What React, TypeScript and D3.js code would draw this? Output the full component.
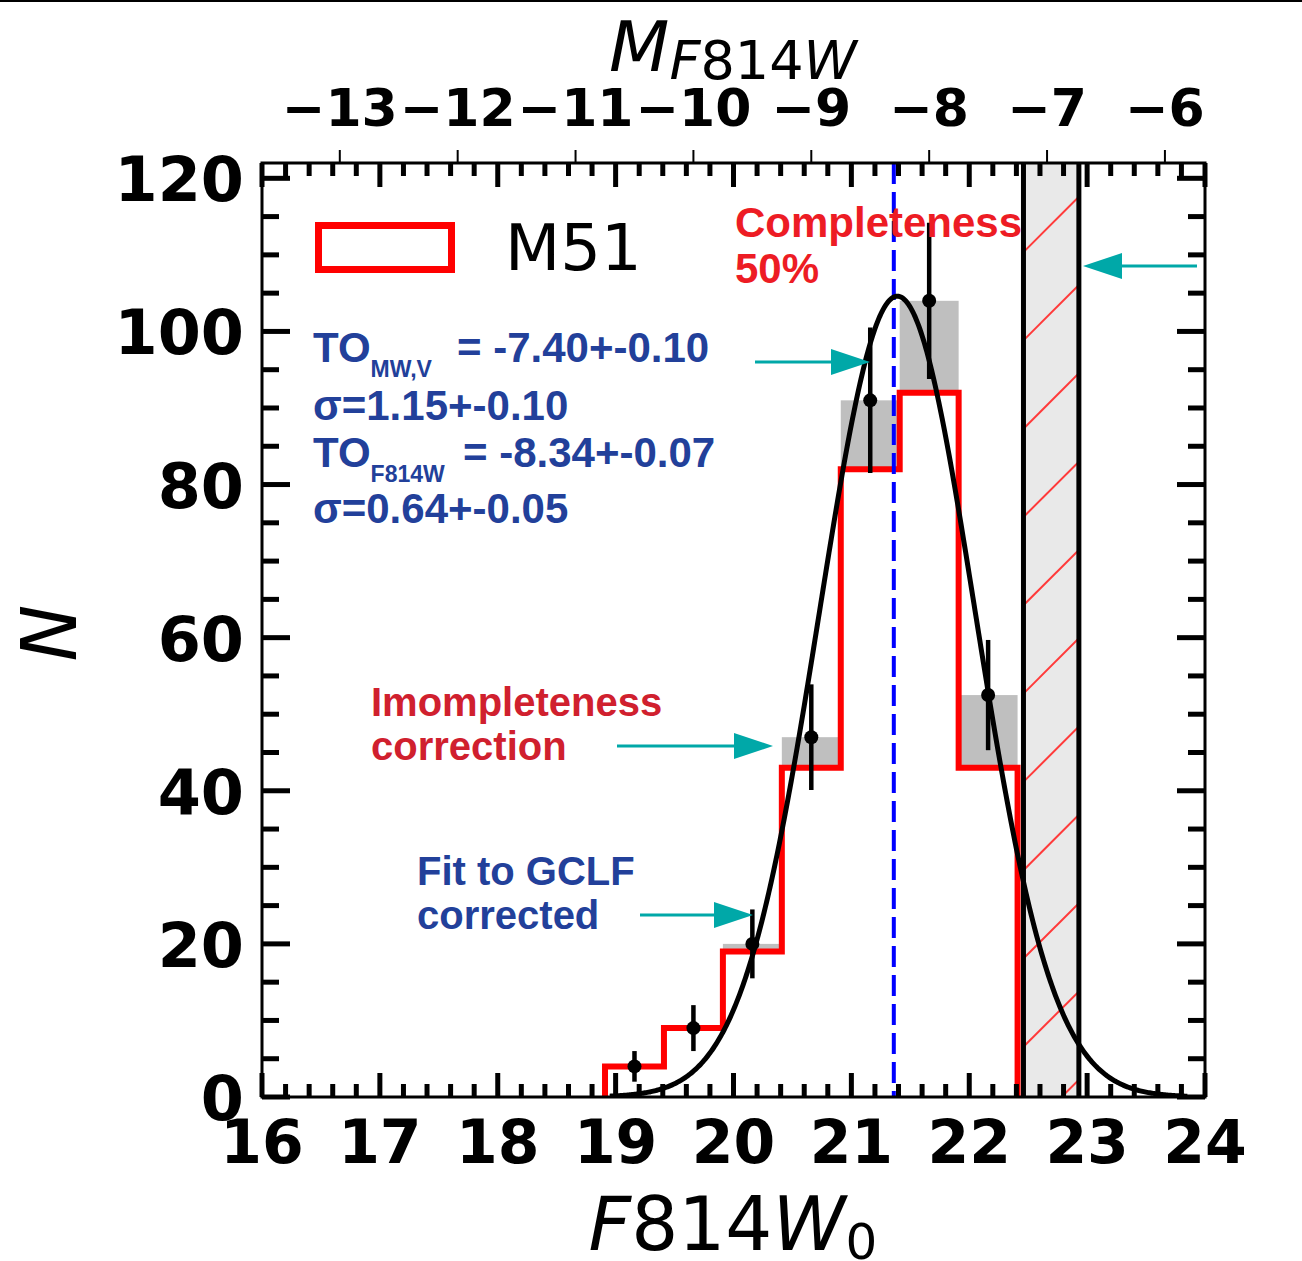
import React from 'react';
import * as d3 from 'd3';

// ---------- data ----------
const binEdges = [18.91, 19.41, 19.91, 20.41, 20.91, 21.41, 21.91, 22.41];
const binCenters = [19.16, 19.66, 20.16, 20.66, 21.16, 21.66, 22.16];
const rawCounts = [4, 9, 19, 43, 82, 92, 43];
const correctedCounts = [4, 9, 20, 47, 91, 104, 52.5];
const countErrors = [2, 3, 4.5, 6.9, 9.5, 10.2, 7.2];

const xTicks = [16, 17, 18, 19, 20, 21, 22, 23, 24];
const yTicks = [0, 20, 40, 60, 80, 100, 120];
const topTicks = [-13, -12, -11, -10, -9, -8, -7, -6];

const DIST_MOD = 29.66;
const FIT_MU = 21.39;
const FIT_SIGMA = 0.66;
const FIT_AMP = 104.6;
const FIT_RANGE = [18.95, 23.85];
const TURNOVER_LINE = 21.36;
const completenessBand = [22.46, 22.93];

// ---------- layout ----------
const W = 1302;
const H = 1261;
const L = 262, R = 1205, T = 163, B = 1097;

const BLUE_TXT = '#22409a';
const TEAL = '#00a8a8';

export default function App() {
  const x = d3.scaleLinear().domain([16, 24]).range([L, R]);
  const y = d3.scaleLinear().domain([0, 122]).range([B, T]);
  const m = d3.scaleLinear().domain([16 - DIST_MOD, 24 - DIST_MOD]).range([L, R]);

  const xMinor = d3.range(16, 24.001, 0.2).map((v) => +v.toFixed(2));
  const yMinor = d3.range(0, 122, 5);

  // histogram step outline
  const stepPts: [number, number][] = [[binEdges[0], 0]];
  rawCounts.forEach((c, i) => {
    stepPts.push([binEdges[i], c]);
    stepPts.push([binEdges[i + 1], c]);
  });
  stepPts.push([binEdges[binEdges.length - 1], 0]);
  const stepLine = d3.line<[number, number]>().x((d) => x(d[0])).y((d) => y(d[1]));

  // fitted gaussian (model curve from the fit parameters)
  const fitX = d3.range(FIT_RANGE[0], FIT_RANGE[1] + 0.0001, 0.01);
  const gauss = (v: number) => FIT_AMP * Math.exp(-((v - FIT_MU) ** 2) / (2 * FIT_SIGMA ** 2));
  const fitLine = d3.line<number>().x((v) => x(v)).y((v) => y(gauss(v)));

  const bx0 = x(completenessBand[0]);
  const bx1 = x(completenessBand[1]);
  const hatch: number[] = d3.range(-2, 13).map((k) => 196.7 + 88.3 * k);

  const arrow = (x1: number, x2: number, yy: number, key: string) => {
    const dir = x2 > x1 ? 1 : -1;
    const hl = 39, hw = 13;
    const base = x2 - dir * hl;
    return (
      <g key={key}>
        <line x1={x1} y1={yy} x2={base} y2={yy} stroke={TEAL} strokeWidth={3} />
        <polygon points={`${x2},${yy} ${base},${yy - hw} ${base},${yy + hw}`} fill={TEAL} />
      </g>
    );
  };

  const tickFont = 'DejaVu Sans, sans-serif';
  const annFont = 'Liberation Sans, Arial, sans-serif';

  return (
    <svg
      width={W}
      height={H}
      style={{ position: 'absolute', left: 0, top: 0, display: 'block', background: '#fff' }}
    >
      <rect x={0} y={0} width={W} height={H} fill="#fff" />
      <rect x={0} y={0} width={W} height={2} fill="#000" />

      <defs>
        <clipPath id="plotclip">
          <rect x={L} y={T} width={R - L} height={B - T} />
        </clipPath>
        <clipPath id="bandclip">
          <rect x={bx0} y={T} width={bx1 - bx0} height={B - T} />
        </clipPath>
      </defs>

      {/* completeness band */}
      <rect x={bx0} y={T} width={bx1 - bx0} height={B - T} fill="#e9e9e9" />
      <g clipPath="url(#bandclip)">
        {hatch.map((yr, i) => (
          <line key={i} x1={bx1} y1={yr} x2={bx0} y2={yr + (bx1 - bx0)} stroke="#ff3a3a" strokeWidth={2} />
        ))}
      </g>

      {/* completeness-correction gray bars */}
      {correctedCounts.map((c, i) =>
        c > rawCounts[i] ? (
          <rect
            key={i}
            x={x(binEdges[i])}
            y={y(c)}
            width={x(binEdges[i + 1]) - x(binEdges[i])}
            height={y(rawCounts[i]) - y(c)}
            fill="#bfbfbf"
          />
        ) : null
      )}

      {/* red histogram */}
      <path d={stepLine(stepPts) || ''} fill="none" stroke="#ff0000" strokeWidth={6} strokeLinejoin="miter" />

      {/* turnover line */}
      <line
        x1={x(TURNOVER_LINE)}
        x2={x(TURNOVER_LINE)}
        y1={T}
        y2={B}
        stroke="#0000ff"
        strokeWidth={4}
        strokeDasharray="21 8"
      />

      {/* gaussian fit */}
      <g clipPath="url(#plotclip)">
        <path d={fitLine(fitX) || ''} fill="none" stroke="#000" strokeWidth={5} />
      </g>

      {/* error bars and points */}
      {binCenters.map((c, i) => (
        <g key={i}>
          <line
            x1={x(c)}
            x2={x(c)}
            y1={y(correctedCounts[i] - countErrors[i])}
            y2={y(correctedCounts[i] + countErrors[i])}
            stroke="#000"
            strokeWidth={4.5}
          />
          <circle cx={x(c)} cy={y(correctedCounts[i])} r={7} fill="#000" />
        </g>
      ))}

      {/* band edge lines */}
      <line x1={bx0} x2={bx0} y1={T} y2={B} stroke="#000" strokeWidth={5} />
      <line x1={bx1} x2={bx1} y1={T} y2={B} stroke="#000" strokeWidth={5} />

      {/* frame */}
      <rect x={L} y={T} width={R - L} height={B - T} fill="none" stroke="#000" strokeWidth={3} />

      {/* bottom / top inward ticks */}
      {xMinor.map((v, i) => {
        const major = Math.abs(v - Math.round(v)) < 1e-6;
        const len = major ? 24 : 13;
        return (
          <g key={'xt' + i}>
            <line x1={x(v)} x2={x(v)} y1={B} y2={B - len} stroke="#000" strokeWidth={5} />
            <line x1={x(v)} x2={x(v)} y1={T} y2={T + len} stroke="#000" strokeWidth={5} />
          </g>
        );
      })}
      {/* left / right inward ticks */}
      {yMinor.map((v, i) => {
        const major = v % 20 === 0;
        const len = major ? 28 : 17;
        return (
          <g key={'yt' + i}>
            <line x1={L} x2={L + len} y1={y(v)} y2={y(v)} stroke="#000" strokeWidth={5} />
            <line x1={R} x2={R - len} y1={y(v)} y2={y(v)} stroke="#000" strokeWidth={5} />
          </g>
        );
      })}
      {/* top magnitude axis outward ticks */}
      {topTicks.map((v) => (
        <line key={'mt' + v} x1={m(v)} x2={m(v)} y1={T} y2={T - 13} stroke="#000" strokeWidth={2} />
      ))}

      {/* tick labels */}
      {xTicks.map((v) => (
        <text
          key={'xl' + v}
          x={x(v)}
          y={1163}
          textAnchor="middle"
          fontFamily={tickFont}
          fontWeight="bold"
          fontSize={60}
          fill="#000"
        >
          {v}
        </text>
      ))}
      {yTicks.map((v) => (
        <text
          key={'yl' + v}
          x={244}
          y={y(v) + 23}
          textAnchor="end"
          fontFamily={tickFont}
          fontWeight="bold"
          fontSize={62}
          fill="#000"
        >
          {v}
        </text>
      ))}
      {topTicks.map((v) => (
        <text
          key={'tl' + v}
          x={m(v)}
          y={126}
          textAnchor="middle"
          fontFamily={tickFont}
          fontWeight="bold"
          fontSize={52}
          fill="#000"
        >
          {'\u2212' + Math.abs(v)}
        </text>
      ))}

      {/* axis titles */}
      <text x={733} y={71} textAnchor="middle" fontFamily={tickFont} fill="#000" fontSize={70}>
        <tspan fontStyle="italic">M</tspan>
        <tspan fontSize={54} dy={8}>
          <tspan fontStyle="italic">F</tspan>814<tspan fontStyle="italic">W</tspan>
        </tspan>
      </text>
      <text x={733} y={1250} textAnchor="middle" fontFamily={tickFont} fill="#000" fontSize={74}>
        <tspan fontStyle="italic">F</tspan>814<tspan fontStyle="italic">W</tspan>
        <tspan fontSize={50} dy={9}>0</tspan>
      </text>
      <text
        transform="translate(76,633) rotate(-90)"
        textAnchor="middle"
        fontFamily={tickFont}
        fontStyle="italic"
        fontSize={76}
        fill="#000"
      >
        N
      </text>

      {/* legend */}
      <rect x={318.5} y={225.5} width={133} height={44} fill="none" stroke="#ff0000" strokeWidth={7} />
      <text x={505} y={270} fontFamily={tickFont} fontSize={64} fill="#000">
        M51
      </text>

      {/* annotations */}
      <g fontFamily={annFont} fontWeight="bold" fill={BLUE_TXT}>
        <text x={313} y={362} fontSize={42}>
          TO
          <tspan fontSize={23} dy={15}>MW,V</tspan>
        </text>
        <text x={457} y={362} fontSize={42}>= -7.40+-0.10</text>
        <text x={313} y={420} fontSize={42}>σ=1.15+-0.10</text>
        <text x={313} y={467} fontSize={42}>
          TO
          <tspan fontSize={23} dy={15}>F814W</tspan>
        </text>
        <text x={463} y={467} fontSize={42}>= -8.34+-0.07</text>
        <text x={313} y={523} fontSize={42}>σ=0.64+-0.05</text>
        <text x={417} y={885} fontSize={40}>Fit to GCLF</text>
        <text x={417} y={929} fontSize={40}>corrected</text>
      </g>
      <g fontFamily={annFont} fontWeight="bold">
        <text x={735} y={237} fontSize={42} fill="#ed1c24">Completeness</text>
        <text x={735} y={283} fontSize={42} fill="#ed1c24">50%</text>
        <text x={371} y={716} fontSize={40} fill="#d0202e">Imompleteness</text>
        <text x={371} y={760} fontSize={40} fill="#d0202e">correction</text>
      </g>

      {/* arrows */}
      {arrow(1197, 1083, 266, 'a1')}
      {arrow(755, 870, 362, 'a2')}
      {arrow(617, 773, 746, 'a3')}
      {arrow(640, 753, 915, 'a4')}
    </svg>
  );
}
